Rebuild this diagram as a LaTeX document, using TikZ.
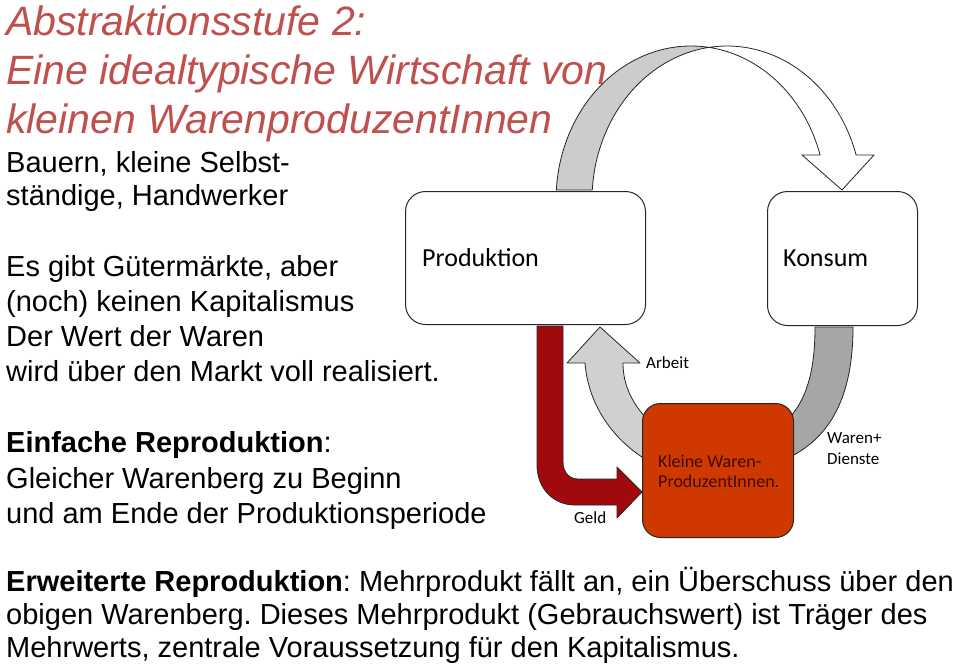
\documentclass[tikz,border=0pt]{standalone}
\usepackage{fontspec}
\setmainfont{Liberation Sans}
\newfontfamily\calib{Carlito}
\frenchspacing
\definecolor{titlered}{RGB}{192,80,77}
\definecolor{arcgray}{RGB}{204,204,204}
\definecolor{lightgray2}{RGB}{208,208,208}
\definecolor{midgray}{RGB}{166,166,166}
\definecolor{geldred}{RGB}{160,10,12}
\definecolor{kleinfill}{RGB}{207,57,0}
\definecolor{kleintext}{RGB}{60,12,0}
\tikzset{
  titletext/.style={anchor=base west, inner sep=0pt, font=\fontsize{41}{49}\selectfont\itshape, text=titlered},
  bodytext/.style={anchor=base west, inner sep=0pt, font=\fontsize{29}{35}\selectfont},
  boxlabel/.style={anchor=base west, inner sep=0pt, font=\calib\fontsize{26}{30}\selectfont},
  smalllabel/.style={anchor=base west, inner sep=0pt, font=\calib\fontsize{17}{20}\selectfont},
  roundbox/.style={draw=black!85, line width=1pt, rounded corners=20pt, fill=white},
  band/.style={draw=black!85, line width=0.8pt, line join=round},
}
\begin{document}
\begin{tikzpicture}[x=1pt,y=-1pt]
\useasboundingbox (0,0) rectangle (960,670);
\fill[white] (0,0) rectangle (960,670);

% top curved arrow (two offset ellipses)
\draw[band, fill=arcgray]
  plot[domain=176.28:82.34, samples=60] ({691+135*cos(\x)},{200-154*sin(\x)})
  -- plot[domain=97.66:176.28, samples=60] ({727+135*cos(\x)},{200-154*sin(\x)})
  -- cycle;
\draw[band, fill=white]
  plot[domain=97.66:17, samples=60] ({727+135*cos(\x)},{200-154*sin(\x)})
  -- (874,155) coordinate (hr) -- (842,190) coordinate (htip) -- (802,155) coordinate (hl)
  -- plot[domain=17:82.34, samples=60] ({691+135*cos(\x)},{200-154*sin(\x)})
  -- cycle;

% Arbeit arrow
\draw[band, fill=lightgray2]
  (585,363) .. controls (588,402) and (610,437) .. (645,459)
  -- (645,417) .. controls (632,402) and (623,385) .. (623,363)
  -- (640,363) -- (600,327) coordinate (atip) -- (567,363) -- cycle;

% Waren+Dienste band
\draw[band, fill=midgray]
  (815,327) -- (853,327)
  .. controls (853,397) and (830,437) .. (790,457)
  -- (790,417) .. controls (808,397) and (815,367) .. (815,327) -- cycle;

% Geld arrow
\draw[band, fill=geldred]
  (537,326) -- (537,465) .. controls (537,488) and (553,505) .. (575,505)
  -- (617,505) -- (617,518) -- (642,492) coordinate (gtip) -- (617,467) -- (617,479)
  -- (578,479) .. controls (569,479) and (563,472) .. (563,462)
  -- (563,326) -- cycle;

% boxes
\node[roundbox, minimum width=240pt, minimum height=133pt, anchor=north west] (prod) at (405,191) {};
\node[roundbox, minimum width=150pt, minimum height=134pt, anchor=north west] (kons) at (767,191) {};
\node[draw=black!85, line width=1pt, rounded corners=18pt, fill=kleinfill, minimum width=151pt, minimum height=134pt, anchor=north west] (klein) at (642,403) {};

\node[boxlabel] (prodlbl) at (422,266) {Produktion};
\node[boxlabel] (konslbl) at (783,266) {Konsum};
\node[smalllabel] (arbeit) at (646,368) {Arbeit};
\node[smalllabel, font=\calib\fontsize{18}{20}\selectfont, text=kleintext] (klein1) at (658,467) {Kleine Waren-};
\node[smalllabel, font=\calib\fontsize{18}{20}\selectfont, text=kleintext] (klein2) at (658,487) {ProduzentInnen.};
\node[smalllabel] (waren1) at (827,443) {Waren+};
\node[smalllabel] (waren2) at (827,464) {Dienste};
\node[smalllabel] (geld) at (574,523) {Geld};

% title
\node[titletext] (t1) at (6,35) {Abstraktionsstufe 2:};
\node[titletext] (t2) at (6,84) {Eine idealtypische Wirtschaft von};
\node[titletext] (t3) at (6,133) {kleinen WarenproduzentInnen};

% body text
\node[bodytext] (b1) at (6,172) {Bauern, kleine Selbst-};
\node[bodytext] (b2) at (6,205) {ständige, Handwerker};
\node[bodytext] (c1) at (6,276) {Es gibt Gütermärkte, aber};
\node[bodytext] (c2) at (6,311) {(noch) keinen Kapitalismus};
\node[bodytext] (c3) at (6,346) {Der Wert der Waren};
\node[bodytext] (c4) at (6,381) {wird über den Markt voll realisiert.};
\node[bodytext] (d1) at (6,452) {\textbf{Einfache Reproduktion}:};
\node[bodytext] (d2) at (6,488) {Gleicher Warenberg zu Beginn};
\node[bodytext] (d3) at (6,523) {und am Ende der Produktionsperiode};
\node[bodytext] (e1) at (6,591) {\textbf{Erweiterte Reproduktion}: Mehrprodukt fällt an, ein Überschuss über den};
\node[bodytext] (e2) at (6,624) {obigen Warenberg. Dieses Mehrprodukt (Gebrauchswert) ist Träger des};
\node[bodytext] (e3) at (6,657) {Mehrwerts, zentrale Voraussetzung für den Kapitalismus.};
\end{tikzpicture}
\end{document}
